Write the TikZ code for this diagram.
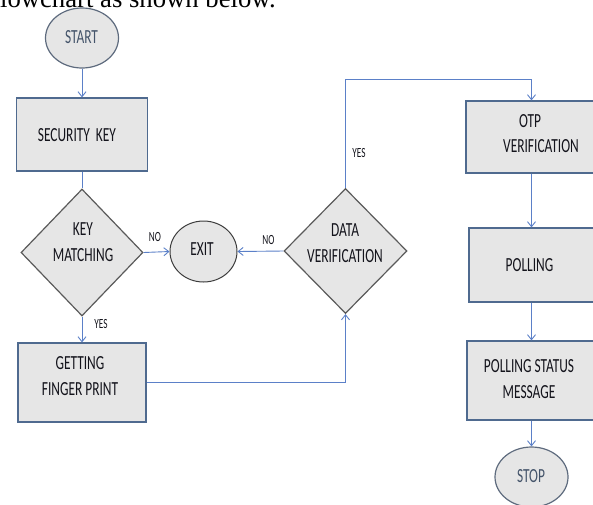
\documentclass[tikz,border=0pt]{standalone}
\usepackage{fontspec}
\setmainfont{Carlito}
\newfontfamily\headserif{Liberation Serif}
\usepackage{graphicx}
\usetikzlibrary{shapes.geometric,arrows.meta}
\definecolor{boxfill}{HTML}{E6E6E6}
\definecolor{rectline}{HTML}{4F6A8F}
\definecolor{diamline}{HTML}{5A5A5A}
\definecolor{ovalline}{HTML}{5E6B7E}
\definecolor{exitline}{HTML}{3C3C3C}
\definecolor{conn}{HTML}{5B80C8}
\definecolor{termtext}{HTML}{44546A}
\definecolor{maintext}{HTML}{14141C}
\newcommand\sqtxt[1]{\scalebox{0.67}[1]{\fontsize{20}{26}\selectfont\begin{tabular}{@{}c@{}}#1\end{tabular}}}
\newcommand\sqsmall[1]{\scalebox{0.66}[1]{\fontsize{14}{16}\selectfont #1}}
\tikzset{
  rectbox/.style={draw=rectline, line width=1.2pt, fill=boxfill, rectangle, inner sep=0pt},
  diambox/.style={draw=diamline, line width=1.2pt, fill=boxfill, diamond, inner sep=0pt},
  ovalbox/.style={draw=ovalline, line width=1.2pt, fill=boxfill, ellipse, inner sep=0pt},
  txt/.style={inner sep=0pt, text=maintext},
  lbl/.style={inner sep=0pt, text=maintext},
  conline/.style={draw=conn, line width=0.9pt},
  conarrow/.style={conline, -{Straight Barb[length=5pt,width=8pt]}}
}
\begin{document}
\begin{tikzpicture}[x=1pt,y=-1pt]
\useasboundingbox (0,0) rectangle (593,504);
\clip (0,0) rectangle (593,504);
% header text (cut off at the top, as in the source)
\node[anchor=base west, inner sep=0pt, font=\headserif\fontsize{26.7}{30}\selectfont] (hdr) at (-9,7) {flowchart as shown below.};
% shapes
\node[ovalbox, minimum width=73pt, minimum height=60pt] (start) at (82,38) {};
\node[txt, text=termtext] (starttxt) at (81.5,38) {\sqtxt{START}};
\node[rectbox, minimum width=131pt, minimum height=73pt] (seckey) at (82,134.5) {};
\node[txt] (sectxt) at (77,136) {\sqtxt{SECURITY~~KEY}};
\node[diambox, minimum width=122pt, minimum height=127pt] (keymatch) at (82,252.5) {};
\node[txt] (keytxt) at (83,243) {\sqtxt{KEY\\MATCHING}};
\node[ovalbox, draw=exitline, line width=1pt, minimum width=67pt, minimum height=61pt] (exit) at (203.5,251.5) {};
\node[txt] (exittxt) at (202,250) {\sqtxt{EXIT}};
\node[rectbox, minimum width=128pt, minimum height=79pt] (finger) at (82,382.5) {};
\node[txt] (fingertxt) at (80,377.5) {\sqtxt{GETTING\\FINGER PRINT}};
\node[diambox, minimum width=123pt, minimum height=125pt] (dataver) at (345.5,251) {};
\node[txt] (datatxt) at (345,244) {\sqtxt{DATA\\VERIFICATION}};
\node[rectbox, minimum width=131pt, minimum height=72pt] (otp) at (531.5,137) {};
\node[txt] (otptxt1) at (530,122) {\sqtxt{OTP}};
\node[txt] (otptxt2) at (541,147) {\sqtxt{VERIFICATION}};
\node[rectbox, minimum width=125pt, minimum height=74pt] (poll) at (531.5,265) {};
\node[txt] (polltxt) at (529.5,266) {\sqtxt{POLLING}};
\node[rectbox, minimum width=129pt, minimum height=79pt] (pstat) at (531.5,380.5) {};
\node[txt] (pstattxt) at (529,380.5) {\sqtxt{POLLING STATUS\\MESSAGE}};
\node[ovalbox, minimum width=73pt, minimum height=60pt] (stop) at (531.5,477) {};
\node[txt, text=termtext] (stoptxt) at (531,477) {\sqtxt{STOP}};
% labels
\node[lbl] (no1) at (155,237) {\sqsmall{NO}};
\node[lbl] (no2) at (268.5,240) {\sqsmall{NO}};
\node[lbl] (yes1) at (101,324) {\sqsmall{YES}};
\node[lbl] (yes2) at (359,153) {\sqsmall{YES}};
% corner coordinates
\coordinate (c1) at (345.5,382.5);
\coordinate (c2) at (345.5,79);
\coordinate (c3) at (531.5,79);
% connectors
\draw[conarrow] (start.south) -- (seckey.north);
\draw[conline] (seckey.south) -- (keymatch.north);
\draw[conarrow] (keymatch.east) -- (exit.west);
\draw[conarrow] (dataver.west) -- (exit.east);
\draw[conarrow] (keymatch.south) -- (finger.north);
\draw[conarrow] (finger.east) -- (c1) -- (dataver.south);
\draw[conarrow] (dataver.north) -- (c2) -- (c3) -- (otp.north);
\draw[conarrow] (otp.south) -- (poll.north);
\draw[conarrow] (poll.south) -- (pstat.north);
\draw[conarrow] (pstat.south) -- (stop.north);
\end{tikzpicture}
\end{document}
